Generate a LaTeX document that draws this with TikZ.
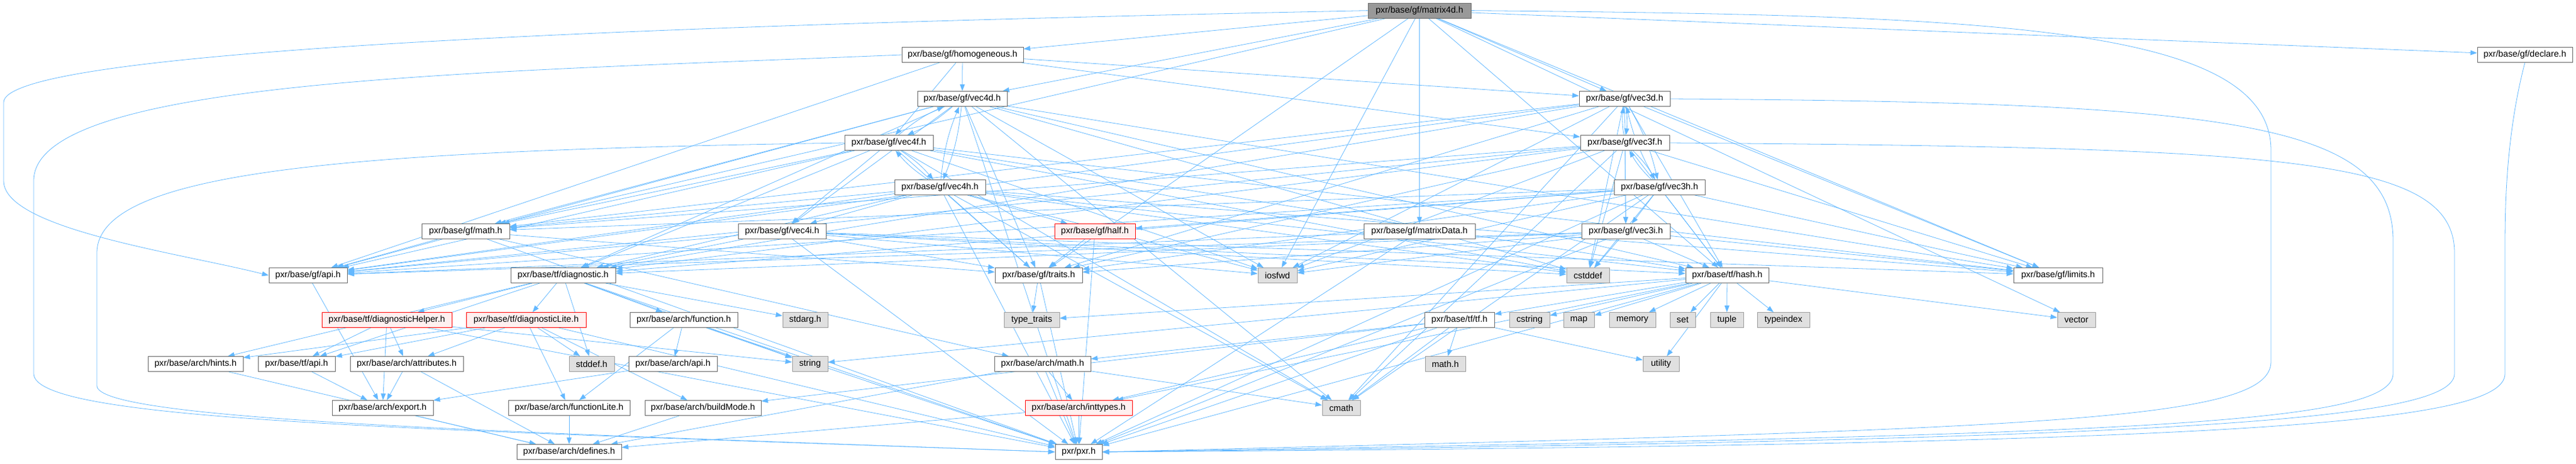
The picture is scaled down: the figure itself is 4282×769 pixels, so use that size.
\documentclass[tikz,border=0pt]{standalone}
\usepackage{fontspec}
\setmainfont{Liberation Sans}
\usetikzlibrary{arrows.meta}
\definecolor{inclblue}{HTML}{63B8FF}
\definecolor{boxline}{HTML}{666666}
\definecolor{sysline}{HTML}{999999}
\definecolor{sysfill}{HTML}{E0E0E0}
\definecolor{redfill}{HTML}{FFF0F0}
\pgfdeclarelayer{back}
\pgfsetlayers{back,main}
\begin{document}
\begin{tikzpicture}[x=1pt,y=-1pt,
        file/.style={draw=boxline,fill=white,line width=0.9pt,minimum height=25pt,inner sep=1pt,font=\fontsize{14.7}{16}\selectfont},
        mainfile/.style={file,fill=sysline},
        sysfile/.style={file,draw=sysline,fill=sysfill},
        redfile/.style={file,draw=red,fill=redfill},
        incl/.style={draw=inclblue,line width=0.8pt,-{Triangle[length=11pt,width=8pt]}}]
        \useasboundingbox (0,0) rectangle (4282,769);
        %% the file itself
        \node[mainfile,minimum width=171] (m4d) at (2359.5,17.6) {pxr/base/gf/matrix4d.h};
        %% headers of the project
        \foreach \n/\x/\y/\w/\t in {
            homog/1600/91/202/{pxr/base/gf/homogeneous.h},
            declare/4197/91/158/{pxr/base/gf/declare.h},
            v4d/1599.5/164/149/{pxr/base/gf/vec4d.h},
            v3d/2700.5/164/151/{pxr/base/gf/vec3d.h},
            v4f/1477.5/237/147/{pxr/base/gf/vec4f.h},
            v3f/2701/237/148/{pxr/base/gf/vec3f.h},
            v4h/1562.5/311/151/{pxr/base/gf/vec4h.h},
            v3h/2758.5/311/151/{pxr/base/gf/vec3h.h},
            gmath/774/384/146/{pxr/base/gf/math.h},
            v4i/1300/384/146/{pxr/base/gf/vec4i.h},
            mdata/2359.5/384/185/{pxr/base/gf/matrixData.h},
            v3i/2702.5/384/147/{pxr/base/gf/vec3i.h},
            gapi/512/457/130/{pxr/base/gf/api.h},
            diag/936/457/174/{pxr/base/tf/diagnostic.h},
            traits/1726.5/457/145/{pxr/base/gf/traits.h},
            hash/2871/457/138/{pxr/base/tf/hash.h},
            limits/3421/457/148/{pxr/base/gf/limits.h},
            afunc/1136.5/531/179/{pxr/base/arch/function.h},
            tftf/2426/531/116/{pxr/base/tf/tf.h},
            hints/325/604/158/{pxr/base/arch/hints.h},
            tfapi/493/604/128/{pxr/base/tf/api.h},
            attrs/676/604/188/{pxr/base/arch/attributes.h},
            aapi/1118.5/604/147/{pxr/base/arch/api.h},
            amath/1733/604/160/{pxr/base/arch/math.h},
            export/636/677/168/{pxr/base/arch/export.h},
            flite/946/677/202/{pxr/base/arch/functionLite.h},
            bmode/1168.5/677/193/{pxr/base/arch/buildMode.h},
            defines/946/750/174/{pxr/base/arch/defines.h},
            pxr/1793/750/78/{pxr/pxr.h}}
            \node[file,minimum width=\w] (\n) at (\x,\y) {\t};
        %% headers whose graph was cut
        \foreach \n/\x/\y/\w/\t in {
            half/1820/384/134/{pxr/base/gf/half.h},
            dhelp/643/531/216/{pxr/base/tf/diagnosticHelper.h},
            dlite/874.5/531/199/{pxr/base/tf/diagnosticLite.h},
            inttypes/1793/677/178/{pxr/base/arch/inttypes.h}}
            \node[redfile,minimum width=\w] (\n) at (\x,\y) {\t};
        %% system headers
        \foreach \n/\x/\y/\w/\t in {
            iosfwd/2123.5/457/65/{iosfwd},
            cstddef/2639.5/457/71/{cstddef},
            stdarg/1338.5/531/75/{stdarg.h},
            ttraits/1715/531/92/{type\_traits},
            cstring/2542.5/531/67/{cstring},
            map/2624.5/531/51/{map},
            memory/2713.5/531/77/{memory},
            set/2797/531/42/{set},
            tuple/2870.5/531/55/{tuple},
            typeindex/2964.5/531/87/{typeindex},
            vector/3451.5/531/63/{vector},
            stddefh/983.5/604/75/{stddef.h},
            string/1346.5/604/59/{string},
            mathh/2402.5/604/67/{math.h},
            utility/2761/604/60/{utility},
            cmath/2229.5/677/63/{cmath}}
            \node[sysfile,minimum width=\w] (\n) at (\x,\y) {\t};
        \begin{pgfonlayer}{back}
        %% includes
        \foreach \t in {homog,declare,mdata,v3d,v4d,traits,limits,gmath,hash,iosfwd,vector}
            \draw[incl] (m4d) -- (\t);
        \foreach \t in {v4d,v4f,v3d,v3f,gapi}
            \draw[incl] (homog) -- (\t);
        \foreach \s in {v4d,v4f,v4h,v3d,v3f,v3h}
            \foreach \t in {diag,gapi,limits,traits,gmath,hash,cstddef,cmath,iosfwd}
                \draw[incl] (\s) -- (\t);
        \foreach \s in {v4i,v3i}
            \foreach \t in {pxr,diag,gapi,limits,traits,hash,cstddef,iosfwd}
                \draw[incl] (\s) -- (\t);
        \foreach \s in {v4d,v4h,v3h}
            \draw[incl] (\s) -- (pxr);
        %% vec types see each other
        \foreach \a/\b in {v4d/v4f,v4d/v4h,v4f/v4h,v3d/v3f,v3d/v3h,v3f/v3h} {
            \draw[incl] (\a) to[bend left=8] (\b);
            \draw[incl] (\b) to[bend left=8] (\a);
        }
        \foreach \s in {v4d,v4f,v4h}
            \draw[incl] (\s) -- (v4i);
        \foreach \s in {v3d,v3f,v3h}
            \draw[incl] (\s) -- (v3i);
        \draw[incl] (v4h) -- (half);
        \draw[incl] (v3h) -- (half);
        \foreach \s/\t in {gmath/pxr,gmath/amath,gmath/gapi,gmath/traits,half/traits,half/pxr,
                mdata/pxr,mdata/gapi,traits/ttraits,traits/pxr,gapi/export}
            \draw[incl] (\s) -- (\t);
        \foreach \t in {pxr,tfapi,dlite,dhelp,afunc,hints,stddefh,string,stdarg}
            \draw[incl] (diag) -- (\t);
        \foreach \t in {pxr,tfapi,attrs,export,string}
            \draw[incl] (dhelp) -- (\t);
        \foreach \t in {pxr,tfapi,attrs,bmode,flite,hints,stddefh}
            \draw[incl] (dlite) -- (\t);
        \foreach \s/\t in {hints/defines,tfapi/export,attrs/export,attrs/defines,export/defines,
                flite/defines,bmode/defines,afunc/pxr,afunc/aapi,afunc/flite,afunc/string,aapi/export,
                amath/defines,amath/inttypes,amath/cmath,amath/pxr,inttypes/pxr,inttypes/defines}
            \draw[incl] (\s) -- (\t);
        \foreach \t in {pxr,tftf,cstring,map,memory,set,tuple,typeindex,utility,string,ttraits,vector,inttypes}
            \draw[incl] (hash) -- (\t);
        \foreach \t in {pxr,bmode,amath,inttypes,mathh,utility,cmath}
            \draw[incl] (tftf) -- (\t);
        %% long ones round the right side
        \draw[incl] (m4d.east) .. controls (3300,25) and (3775,40) .. (3775,250) -- (3775,600)
            .. controls (3775,700) and (3400,712) .. (pxr.east);
        \draw[incl] (v3d.east) .. controls (3700,170) and (3978,200) .. (3978,400) -- (3978,620)
            .. controls (3978,708) and (3500,722) .. (pxr.east);
        \draw[incl] (v3f.east) .. controls (3800,245) and (4080,260) .. (4080,420) -- (4080,620)
            .. controls (4080,700) and (3600,730) .. (pxr.east);
        \draw[incl] (declare.south) .. controls (4172,200) and (4164,300) .. (4164,400) -- (4164,620)
            .. controls (4164,705) and (3700,738) .. (pxr.east);
        %% long ones round the left side
        \draw[incl] (m4d.west) .. controls (900,45) and (6,90) .. (6,170) -- (6,300)
            .. controls (6,380) and (300,420) .. (gapi.west);
        \draw[incl] (homog.west) .. controls (800,120) and (56,130) .. (56,300) -- (56,620)
            .. controls (56,700) and (700,712) .. (pxr.west);
        \draw[incl] (v4f.west) .. controls (600,250) and (161,280) .. (161,420) -- (161,640)
            .. controls (161,700) and (900,718) .. (pxr.west);
        \end{pgfonlayer}
    \end{tikzpicture}
\end{document}
